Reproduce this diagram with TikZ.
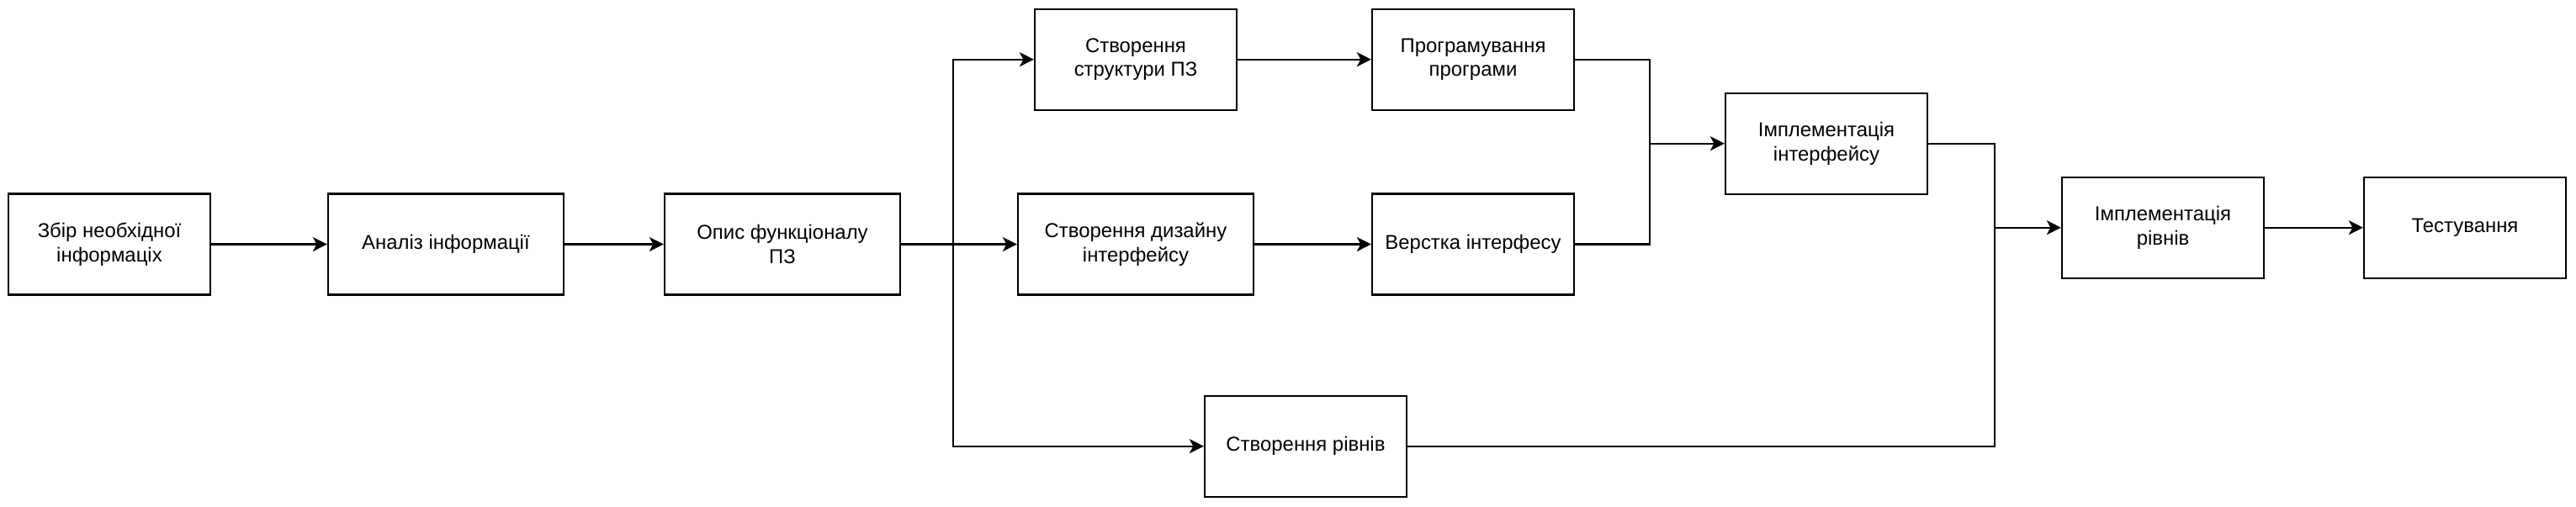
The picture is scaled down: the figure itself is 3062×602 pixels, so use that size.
\documentclass[tikz,border=0pt]{standalone}
\usepackage{fontspec}
\setmainfont{Liberation Sans}
\usepackage{tikz}
\usetikzlibrary{arrows.meta, positioning, calc}

\begin{document}
\begin{tikzpicture}[x=0.01cm, y=-0.01cm, line width=0.6pt,
    >={Stealth[length=0.17cm, width=0.17cm, inset=0.045cm]},
    box/.style={draw, rectangle, minimum width=2.4cm, minimum height=1.2cm,
      align=center, inner sep=0pt, font=\fontsize{6.8}{8.2}\selectfont},
    widebox/.style={box, minimum width=2.8cm}]
  \useasboundingbox (0,0) rectangle (3062,602);
  % Main row
  \node[box]     (collect)  at (130,290.5)  {Збір необхідної\\інформаціх};
  \node[widebox] (analysis) at (530,290.5)  {Аналіз інформації};
  \node[widebox] (spec)     at (930,290.5)  {Опис функціоналу\\ПЗ};
  % Program branch
  \node[box]     (structure) at (1350,70.7) {Створення\\структури ПЗ};
  \node[box]     (coding)    at (1751,70.7) {Програмування\\програми};
  % Design branch
  \node[widebox] (design)    at (1350,290.5) {Створення дизайну\\інтерфейсу};
  \node[box]     (layout)    at (1751,290.5) {Верстка інтерфесу};
  \node[box]     (implui)    at (2171,170.7) {Імплементація\\інтерфейсу};
  % Levels branch
  \node[box]     (levels)    at (1552,530.7) {Створення рівнів};
  \node[box]     (impllvl)   at (2571,270.7) {Імплементація\\рівнів};
  \node[box]     (testing)   at (2930,270.7) {Тестування};
  % Junction points
  \coordinate (split) at (1133,290.5);
  \coordinate (joinui) at (1961,170.7);
  \coordinate (joinlvl) at (2371,270.7);
  % Connectors
  \draw[->] (collect) -- (analysis);
  \draw[->] (analysis) -- (spec);
  \draw[->] (spec) -- (design);
  \draw[->] (split) |- (structure);
  \draw[->] (split) |- (levels);
  \draw[->] (structure) -- (coding);
  \draw[->] (design) -- (layout);
  \draw (coding.east) -| (joinui);
  \draw (layout.east) -| (joinui);
  \draw[->] (joinui) -- (implui);
  \draw (implui.east) -| (joinlvl);
  \draw (levels.east) -| (joinlvl);
  \draw[->] (joinlvl) -- (impllvl);
  \draw[->] (impllvl) -- (testing);
\end{tikzpicture}
\end{document}
